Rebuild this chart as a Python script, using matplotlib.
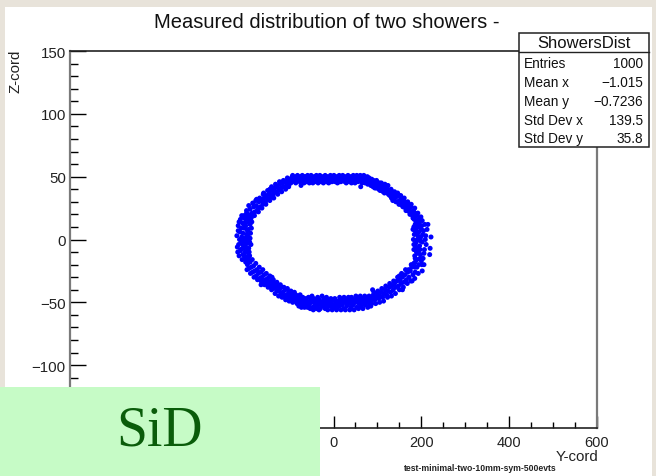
import matplotlib
matplotlib.use("Agg")
import matplotlib.pyplot as plt
from matplotlib.patches import Rectangle
from matplotlib.ticker import MultipleLocator, FuncFormatter

# Shower hit positions (Y-cord, Z-cord), grouped by arc of the ring
top_arc = [(-98,46),(-96,48),(-94,50),(-92,47),(-90,49),(-88,46),(-87,48),(-85,50),(-83,47),(-81,49),
           (-79,48),(-77,46),(-76,50),(-74,43),(-72,48),(-70,49),(-68,47),(-66,50),(-64,48),(-62,46),
           (-60,49),(-58,47),(-56,50),(-54,48),(-52,46),(-50,49),(-48,47),(-46,48),(-44,50),(-42,46),
           (-40,49),(-38,47),(-36,48),(-34,50),(-32,47),(-30,49),(-28,46),(-26,48),(-24,50),(-22,47),
           (-20,49),(-18,48),(-16,46),(-14,50),(-12,47),(-10,49),(-8,48),(-6,46),(-4,50),(-2,48),
           (0,47),(2,49),(4,46),(6,50),(8,48),(10,47),(12,49),(14,46),(16,48),(18,50),
           (20,47),(22,49),(24,48),(26,46),(28,50),(30,47),(32,49),(34,48),(36,46),(38,50),
           (40,47),(42,49),(44,48),(46,46),(48,50),(50,47),(52,49),(54,48),(56,46),(58,49),
           (60,47),(62,42),(64,48),(66,46),(68,49),(70,47),(72,45),(74,48),(76,46),(78,44),
           (80,47),(82,45),(84,46),
           (-97,45),(-93,51),(-89,48),(-86,45),(-82,51),(-78,49),(-74,47),(-71,51),(-67,45),(-63,50),
           (-59,51),(-55,45),(-51,51),(-47,45),(-43,48),(-39,51),(-35,45),(-31,51),(-27,48),(-23,45),
           (-19,51),(-15,48),(-11,45),(-7,51),(-3,46),(1,51),(5,48),(9,45),(13,51),(17,46),
           (21,51),(25,48),(29,45),(33,51),(37,48),(41,45),(45,51),(49,45),(53,51),(57,48),
           (61,51),(65,45),(69,51),(73,47),(77,50),(81,49),(85,43)]
upper_right = [(86,44),(88,47),(90,42),(92,45),(95,46),(97,41),(99,44),(101,43),(103,40),(105,45),
               (107,42),(110,39),(112,43),(114,41),(116,37),(118,42),(121,38),(123,40),(125,36),(127,39),
               (130,37),(132,33),(134,38),(136,35),(138,32),(141,36),(143,34),(145,30),(147,35),(150,31),
               (152,28),(154,33),(156,30),(158,26),(160,31),(162,28),(164,25),(166,29),(168,23),(170,27),
               (172,24),(174,20),(176,26),(178,22),(180,19),(182,23),(184,17),(186,21),(188,15),(190,19),
               (87,48),(91,47),(94,41),(98,47),(102,45),(106,39),(109,45),(113,38),(117,44),(120,41),
               (124,43),(128,35),(131,40),(135,31),(139,38),(142,30),(146,37),(149,28),(153,35),(157,27),
               (161,33),(165,23),(169,30),(173,22),(177,28),(181,17),(185,25),(189,12),(192,21),(195,16)]
right_side = [(192,14),(186,12),(197,16),(189,9),(201,11),(194,6),(184,4),(199,2),(191,0),(205,7),
              (187,-3),(196,-5),(210,3),(222,2),(183,-8),(193,-10),(202,-2),(188,13),(196,10),(185,-13),
              (198,-12),(190,-16),(207,-8),(220,-7),(194,-20),(186,-18),(200,8),(182,0),(192,-7),(204,-15),
              (188,5),(198,-1),(184,16),(215,12),(191,-11),
              (199,18),(183,10),(208,12),(195,13),(186,7),(203,4),(197,-8),(183,-4),(211,-4),(189,-10),
              (200,-17),(185,-22),(195,1),(206,-11),(181,8),(213,8),(190,-1),(202,15),(187,-6),(197,-15),
              (209,0),(192,3),(186,-15),(219,-12),(201,-20)]
lower_right = [(190,-22),(183,-19),(186,-26),(178,-22),(181,-28),(175,-25),(172,-30),(169,-26),(166,-32),(163,-28),
               (160,-34),(157,-30),(157,-40),(154,-35),(151,-32),(148,-37),(145,-33),(142,-38),(139,-35),(136,-40),
               (133,-37),(130,-42),(127,-38),(124,-41),(121,-44),(118,-40),(115,-43),(112,-46),(109,-42),(106,-45),
               (103,-47),(100,-43),(97,-46),(94,-48),(91,-44),(89,-40),(88,-47),(202,-25),(176,-33),(150,-29),
               (193,-27),(185,-31),(177,-20),(179,-33),(171,-24),(168,-35),(164,-24),(159,-38),(155,-27),(150,-40),
               (146,-30),(141,-43),(137,-33),(132,-45),(128,-35),(123,-46),(119,-37),(114,-49),(110,-39),(105,-50),
               (101,-41),(96,-51),(92,-42),(87,-51),(206,-20)]
bottom_arc = [(86,-49),(84,-46),(82,-51),(80,-48),(77,-50),(75,-46),(72,-52),(70,-48),(68,-50),(65,-47),
              (63,-53),(60,-49),(58,-51),(55,-47),(53,-54),(50,-50),(48,-48),(45,-52),(43,-49),(40,-54),
              (38,-47),(35,-51),(33,-49),(30,-53),(28,-48),(25,-50),(23,-55),(20,-52),(18,-48),(15,-51),
              (13,-53),(10,-49),(8,-54),(5,-50),(3,-47),(0,-52),(-2,-55),(-5,-50),(-7,-53),(-10,-48),
              (-12,-51),(-15,-54),(-17,-49),(-20,-52),(-22,-47),(-25,-53),(-27,-50),(-30,-55),(-32,-48),(-35,-51),
              (-37,-53),(-40,-49),(-42,-52),(-45,-47),(-47,-54),(-50,-50),(-52,-48),(-55,-52),(-57,-46),(-60,-50),
              (-62,-53),(-65,-48),(-67,-51),(-70,-46),(-72,-49),(-75,-52),(-77,-47),(-80,-50),(-82,-45),(-84,-48),
              (85,-53),(81,-45),(78,-54),(74,-50),(71,-45),(67,-55),(64,-50),(61,-45),(57,-55),(54,-49),
              (51,-45),(47,-56),(44,-51),(41,-46),(37,-56),(34,-46),(31,-51),(27,-56),(24,-46),(21,-50),
              (17,-56),(14,-46),(11,-51),(7,-56),(4,-53),(1,-48),(-3,-56),(-6,-47),(-9,-52),(-13,-56),
              (-16,-46),(-19,-55),(-23,-50),(-26,-45),(-29,-52),(-33,-56),(-36,-46),(-39,-55),(-43,-50),(-46,-56),
              (-49,-45),(-53,-55),(-56,-50),(-59,-54),(-63,-47),(-66,-54),(-69,-50),(-73,-54),(-76,-44),(-79,-53),
              (-83,-51)]
lower_left = [(-86,-44),(-88,-49),(-91,-46),(-94,-43),(-96,-48),(-99,-45),(-102,-42),(-104,-47),(-107,-44),(-110,-40),
              (-112,-45),(-115,-42),(-118,-38),(-120,-43),(-123,-40),(-126,-37),(-128,-41),(-131,-38),(-134,-35),(-136,-39),
              (-139,-36),(-142,-33),(-144,-37),(-147,-34),(-150,-31),(-152,-35),(-155,-32),(-158,-28),(-160,-33),(-163,-30),
              (-166,-26),(-168,-31),(-171,-27),(-174,-24),(-176,-29),(-179,-25),(-182,-21),(-184,-26),(-187,-22),(-190,-18),
              (-192,-23),(-194,-16),(-196,-20),(-165,-36),(-140,-30),
              (-89,-42),(-93,-50),(-97,-41),(-101,-49),(-105,-39),(-109,-48),(-113,-38),(-117,-46),(-121,-36),(-125,-45),
              (-129,-34),(-133,-43),(-137,-32),(-141,-40),(-145,-29),(-149,-38),(-153,-27),(-157,-36),(-161,-24),(-165,-33),
              (-169,-22),(-173,-32),(-177,-19),(-181,-30),(-185,-16),(-189,-27),(-193,-12),(-197,-24),(-200,-18)]
left_side = [(-198,-14),(-206,-12),(-192,-10),(-211,-8),(-200,-6),(-195,-3),(-216,-4),(-204,-1),(-190,1),(-209,2),
             (-198,4),(-213,6),(-194,8),(-203,9),(-217,11),(-190,12),(-207,13),(-199,15),(-212,16),(-195,18),
             (-204,19),(-188,17),(-201,-10),(-208,-16),(-196,7),(-206,5),(-193,-7),(-214,0),(-200,11),(-191,-13),
             (-210,-2),(-197,14),(-205,-7),(-218,-10),(-189,5),
             (-202,-15),(-215,-13),(-188,-4),(-197,-9),(-219,-6),(-206,-4),(-194,2),(-220,3),(-201,1),(-187,9),
             (-210,9),(-215,14),(-192,15),(-203,17),(-209,19),(-198,21),(-186,14),(-212,-9),(-203,-13),(-196,-1),
             (-217,7),(-207,-7),(-191,-2),(-204,12),(-199,-3)]
upper_left = [(-194,20),(-188,17),(-190,24),(-185,21),(-182,26),(-179,22),(-176,27),(-173,24),(-170,30),(-167,26),
              (-164,31),(-161,28),(-158,33),(-155,30),(-152,35),(-149,32),(-146,37),(-143,34),(-140,39),(-137,36),
              (-134,41),(-131,38),(-128,42),(-125,39),(-122,44),(-119,41),(-116,45),(-113,42),(-110,46),(-107,43),
              (-104,47),(-101,44),(-99,48),(-175,32),(-160,36),(-145,40),
              (-198,23),(-193,27),(-186,19),(-184,29),(-180,19),(-177,31),(-171,22),(-168,33),(-163,25),(-159,37),
              (-154,28),(-150,39),(-145,31),(-141,42),(-136,33),(-132,44),(-127,36),(-123,46),(-118,38),(-114,47),
              (-109,40),(-105,49),(-102,42),(-100,45)]

stat_names = ["Entries", "Mean x", "Mean y", "Std Dev x", "Std Dev y"]
stat_values = ["1000", "\u22121.015", "\u22120.7236", "139.5", "35.8"]

W, H = 656, 477
fig = plt.figure(figsize=(W / 100, H / 100), dpi=100)
fig.patch.set_facecolor("#e8e3da")
plt.rcParams["font.family"] = ["Liberation Sans", "DejaVu Sans"]

def fx(px):
    return px / W

def fy(py):
    return 1 - py / H

# white canvas
fig.add_artist(Rectangle((fx(5), 0), fx(652) - fx(5), fy(8), transform=fig.transFigure,
                         facecolor="white", edgecolor="none", zorder=0))

ax = fig.add_axes([fx(70), fy(429), fx(597) - fx(70), fy(52) - fy(429)])
ax.set_facecolor("white")

for seg in (top_arc, upper_right, right_side, lower_right, bottom_arc, lower_left, left_side, upper_left):
    ys = [p[0] for p in seg]
    zs = [p[1] for p in seg]
    ax.scatter(ys, zs, s=13, color="#0000ff", edgecolors="none", zorder=3)

ax.set_xlim(-600, 600)
ax.set_ylim(-150, 150)
ax.xaxis.set_major_locator(MultipleLocator(200))
ax.xaxis.set_minor_locator(MultipleLocator(50))
ax.yaxis.set_major_locator(MultipleLocator(50))
ax.yaxis.set_minor_locator(MultipleLocator(10))

# labels under the SiD badge are not shown
ax.xaxis.set_major_formatter(FuncFormatter(lambda v, _: "" if v < 0 else f"{v:.0f}"))
ax.yaxis.set_major_formatter(FuncFormatter(
    lambda v, _: "" if v < -120 else f"{v:.0f}".replace("-", "\u2212")))

ax.tick_params(axis="x", which="major", direction="in", length=9, width=1, pad=5,
               labelsize=10.5, labelcolor="#222222", top=False)
ax.tick_params(axis="x", which="minor", direction="in", length=4.5, width=1, top=False)
ax.tick_params(axis="y", which="major", direction="in", length=11.5, width=1, pad=3,
               labelsize=10.8, labelcolor="#222222", right=False)
ax.tick_params(axis="y", which="minor", direction="in", length=5.5, width=1, right=False)
for side in ("left", "right"):
    ax.spines[side].set_color("#7a7a7a")
    ax.spines[side].set_linewidth(1.6)
for side in ("top", "bottom"):
    ax.spines[side].set_color("#222222")
    ax.spines[side].set_linewidth(1.2)

fig.text(fx(327), fy(22), "Measured distribution of two showers -", ha="center", va="center",
         fontsize=14.5, color="#111111")
fig.text(fx(15), fy(50), "Z-cord", rotation=90, ha="center", va="top", fontsize=10.8, color="#222222")
fig.text(fx(598), fy(457), "Y-cord", ha="right", va="center", fontsize=10.8, color="#222222")
fig.text(fx(480), fy(469), "test-minimal-two-10mm-sym-500evts", ha="center", va="center",
         fontsize=6.2, fontweight="bold", color="#222222")

# statistics box
box_l, box_r, box_t, box_b, sep = 519, 649, 34, 148, 53
fig.add_artist(Rectangle((fx(box_l), fy(box_b)), fx(box_r) - fx(box_l), fy(box_t) - fy(box_b),
                         transform=fig.transFigure, facecolor="white", edgecolor="#222222",
                         linewidth=1.1, zorder=5))
fig.add_artist(plt.Line2D([fx(box_l), fx(box_r)], [fy(sep), fy(sep)], transform=fig.transFigure,
                          color="#222222", linewidth=1.0, zorder=6))
fig.text(fx((box_l + box_r) / 2), fy(44), "ShowersDist", ha="center", va="center",
         fontsize=12, color="#111111", zorder=7)
row_y = [64, 83, 102, 121, 139]
for name, val, ry in zip(stat_names, stat_values, row_y):
    fig.text(fx(524), fy(ry), name, ha="left", va="center", fontsize=9.8, color="#111111", zorder=7)
    fig.text(fx(643), fy(ry), val, ha="right", va="center", fontsize=9.8, color="#111111", zorder=7)

# SiD badge
fig.add_artist(Rectangle((0, 0), fx(320), fy(388), transform=fig.transFigure,
                         facecolor="#c6fbc6", edgecolor="none", zorder=8))
fig.text(fx(160), fy(432), "SiD", ha="center", va="center", fontsize=40,
         family="Liberation Serif", color="#0a5c0a", zorder=9)

fig.savefig("out.png", dpi=100, facecolor=fig.get_facecolor())
